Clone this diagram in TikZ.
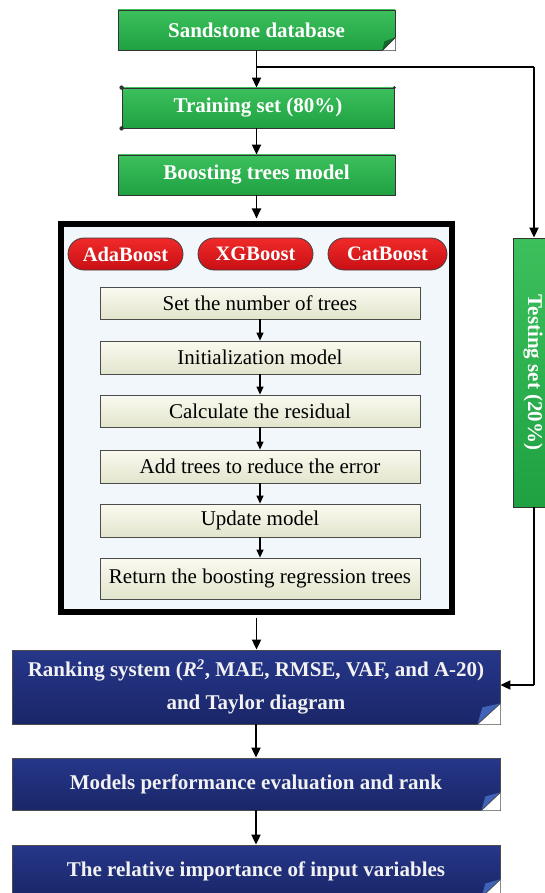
\documentclass[tikz,border=0pt]{standalone}
\usepackage{fontspec}
\setmainfont{Liberation Serif}
\usetikzlibrary{arrows.meta,calc,shapes.misc}
\definecolor{grnT}{HTML}{3CC05C}
\definecolor{grnB}{HTML}{1FA142}
\definecolor{grnD}{HTML}{0F6A2A}
\definecolor{navT}{HTML}{26378A}
\definecolor{navB}{HTML}{1A2668}
\definecolor{navL}{HTML}{3F63B8}
\definecolor{redT}{HTML}{F02A2A}
\definecolor{redB}{HTML}{C80F14}
\definecolor{begT}{HTML}{FAFAF0}
\definecolor{begB}{HTML}{E2E5CC}
\definecolor{bigF}{HTML}{F2F7FC}
\tikzset{
  greenbox/.style={draw=black!80, line width=0.8pt, top color=grnT, bottom color=grnB,
    text=white, font=\fontsize{21}{24}\selectfont\bfseries, minimum width=277pt, minimum height=40pt, inner sep=0pt},
  navybox/.style={draw=black!70, line width=0.8pt, top color=navT, bottom color=navB,
    text=white!95!black, font=\fontsize{21}{33}\selectfont\bfseries, minimum width=488pt, inner sep=0pt, align=center},
  ovalbox/.style={rounded rectangle, draw=black!75, line width=0.8pt, top color=redT, bottom color=redB,
    text=white, font=\fontsize{20.5}{23}\selectfont\bfseries, minimum width=115pt, minimum height=32pt, inner sep=0pt},
  stepbox/.style={draw=black!70, line width=0.8pt, top color=begT, bottom color=begB,
    text=black, font=\fontsize{21}{24}\selectfont, minimum width=320pt, minimum height=33pt, inner sep=0pt},
  arr/.style={line width=1.8pt, -{Triangle[length=10pt,width=9pt]}},
  ln/.style={line width=1.8pt}
}
\begin{document}
\begin{tikzpicture}[x=1pt,y=-1pt]
\useasboundingbox (0,0) rectangle (544,893);
\fill[white] (0,0) rectangle (544,893);

% top green boxes
\node[greenbox] (db) at (256.5,30) {Sandstone database};
\fill[white] ($(db.south east)+(-13,0)$) -- (db.south east) -- ($(db.south east)+(0,-13)$) -- cycle;
\fill[grnD] ($(db.south east)+(-13,0)$) -- ($(db.south east)+(0,-13)$) -- ($(db.south east)+(-11,-9)$) -- cycle;
\draw[black!80, line width=0.8pt] ($(db.south east)+(-13,0)$) -- ($(db.south east)+(0,-13)$);

\node[greenbox, minimum width=272pt] (tr) at (258,108) {Training set (80\%)};
\fill[black!80] (tr.north west) circle (2.2pt);
\fill[black!80] (tr.south west) circle (2.2pt);
\fill[black!80] (tr.north east) circle (1.6pt);

\node[greenbox] (bt) at (256.5,175) {Boosting trees model};

% big frame
\node[draw=black, line width=6pt, fill=bigF, minimum width=391pt, minimum height=387pt, inner sep=0pt] (big) at (256.5,418) {};

\node[ovalbox] (ada) at (125.5,254) {AdaBoost};
\node[ovalbox] (xgb) at (255.5,254) {XGBoost};
\node[ovalbox, minimum width=119pt] (cat) at (387.5,254) {CatBoost};

\node[stepbox, minimum height=32pt] (s1) at (260,303) {Set the number of trees};
\node[stepbox] (s2) at (260,357.5) {Initialization model};
\node[stepbox, minimum height=32pt] (s3) at (260,411) {Calculate the residual};
\node[stepbox] (s4) at (260,466.5) {Add trees to reduce the error};
\node[stepbox] (s5) at (260,520.5) {Update model};
\node[stepbox, minimum height=41pt] (s6) at (260,578.5) {Return the boosting regression trees};

\foreach \a/\b in {s1/s2,s2/s3,s3/s4,s4/s5,s5/s6}
  \draw[line width=1.2pt, -{Triangle[length=8pt,width=7pt]}] (\a) -- (\b);

% testing set
\node[greenbox, rotate=-90, minimum width=269pt, minimum height=40pt] (ts) at (533,372.5) {Testing set (20\%)};
\fill[black!80] (ts.north west) circle (1.8pt);

% navy boxes
\node[navybox, minimum height=74pt] (rk) at (256,687) {Ranking system (\textit{R}\textsuperscript{\textit{2}}, MAE, RMSE, VAF, and A-20)\\and Taylor diagram};
\fill[white] ($(rk.south east)+(-23,0)$) -- (rk.south east) -- ($(rk.south east)+(0,-21)$) -- cycle;
\fill[navL] ($(rk.south east)+(-23,0)$) -- ($(rk.south east)+(0,-21)$) -- ($(rk.south east)+(-18,-17)$) -- cycle;
\draw[black!70, line width=0.8pt] ($(rk.south east)+(-23,0)$) -- ($(rk.south east)+(0,-21)$);

\node[navybox, minimum height=52pt] (mp) at (256,784) {Models performance evaluation and rank};
\fill[white] ($(mp.south east)+(-19,0)$) -- (mp.south east) -- ($(mp.south east)+(0,-18)$) -- cycle;
\fill[navL] ($(mp.south east)+(-19,0)$) -- ($(mp.south east)+(0,-18)$) -- ($(mp.south east)+(-15,-14)$) -- cycle;
\draw[black!70, line width=0.8pt] ($(mp.south east)+(-19,0)$) -- ($(mp.south east)+(0,-18)$);

\node[navybox, minimum height=52pt] (ri) at (256,871) {The relative importance of input variables};
\fill[white] ($(ri.south east)+(-19,0)$) -- (ri.south east) -- ($(ri.south east)+(0,-18)$) -- cycle;
\fill[navL] ($(ri.south east)+(-19,0)$) -- ($(ri.south east)+(0,-18)$) -- ($(ri.south east)+(-15,-14)$) -- cycle;
\draw[black!70, line width=0.8pt] ($(ri.south east)+(-19,0)$) -- ($(ri.south east)+(0,-18)$);

% connectors
\coordinate (br) at (256.5,67);
\coordinate (brr) at (534,67);
\coordinate (bot) at (534,685);
\draw[arr] (db.south) -- (db.south |- tr.north);
\draw[ln] (br) -- (brr);
\draw[arr] (brr) -- (brr |- ts.west);
\draw[arr] (db.south |- tr.south) -- (bt.north);
\draw[arr] (bt.south) -- ($(big.north)+(0,-3)$);
\draw[arr] ($(big.south)+(0,3)$) -- (big.south |- rk.north);
\draw[ln] (brr |- ts.east) -- (bot);
\draw[arr] (bot) -- (rk.east |- bot);
\draw[arr] (rk.south) -- (mp.north);
\draw[arr] (mp.south) -- (ri.north);
\end{tikzpicture}
\end{document}
